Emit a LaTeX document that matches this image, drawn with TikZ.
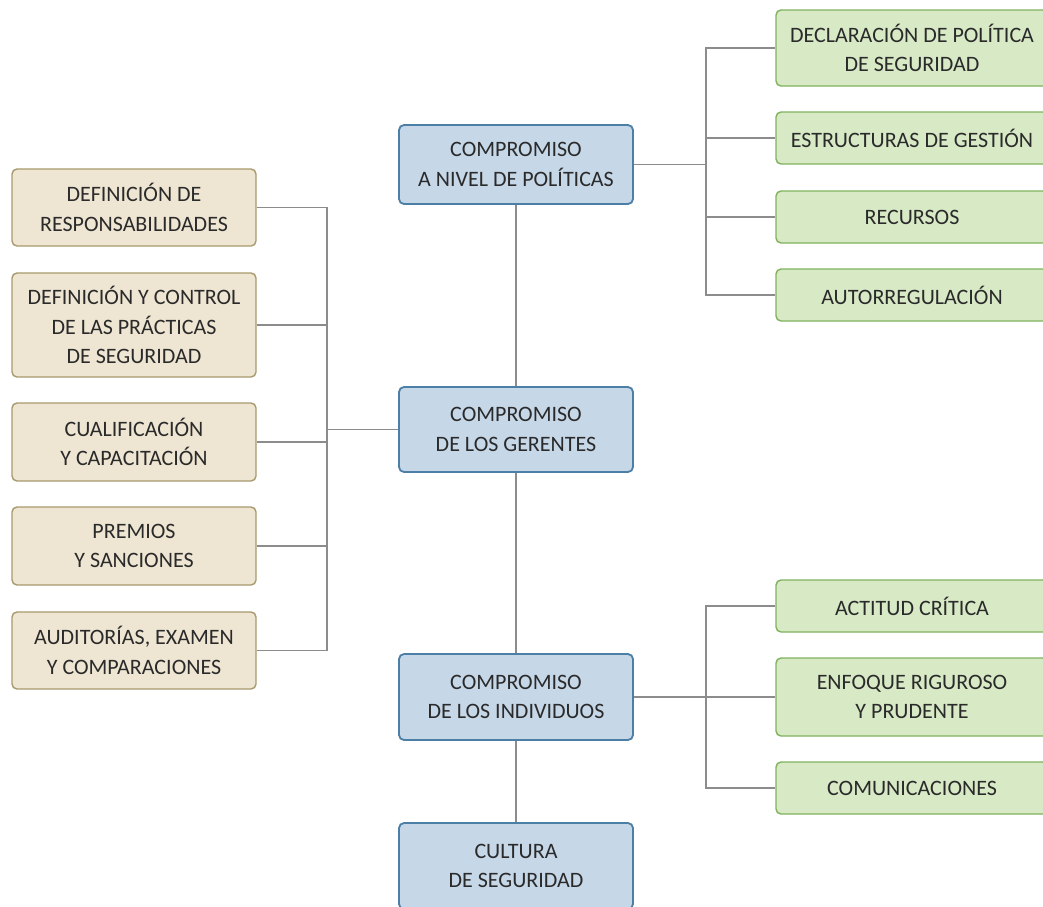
\documentclass[tikz,border=0pt]{standalone}
\usepackage{fontspec}
\setmainfont{Carlito}

\definecolor{tanfill}{HTML}{EEE6D2}
\definecolor{tanline}{HTML}{A8996E}
\definecolor{bluefill}{HTML}{C6D7E8}
\definecolor{blueline}{HTML}{4C7FA6}
\definecolor{greenfill}{HTML}{D8E9C6}
\definecolor{greenline}{HTML}{80B25E}
\definecolor{linkgray}{HTML}{8C8C8C}
\definecolor{txt}{HTML}{2A2A2A}

\begin{document}
\begin{tikzpicture}[x=1pt,y=-1pt,
    box/.style={draw, rounded corners=5pt, align=center, inner sep=0pt,
        text=txt, font=\fontsize{22}{29.5}\selectfont},
    tanbox/.style={box, fill=tanfill, draw=tanline, line width=1.4pt, minimum width=244pt},
    bluebox/.style={box, fill=bluefill, draw=blueline, line width=1.8pt, minimum width=234pt},
    greenbox/.style={box, fill=greenfill, draw=greenline, line width=1.4pt, minimum width=272pt},
    link/.style={draw=linkgray, line width=1.2pt}]

    \useasboundingbox (0,0) rectangle (1043,906);
    \clip (0,0) rectangle (1043,906);

    % central column
    \node[bluebox, minimum height=79pt] (polit) at (516,164.5) {COMPROMISO\\A NIVEL DE POLÍTICAS};
    \node[bluebox, minimum height=85pt] (gerent) at (516,429.5) {COMPROMISO\\DE LOS GERENTES};
    \node[bluebox, minimum height=86pt] (indiv) at (516,697) {COMPROMISO\\DE LOS INDIVIDUOS};
    \node[bluebox, minimum height=86pt] (cultura) at (516,866) {CULTURA\\DE SEGURIDAD};

    % left column (managers)
    \node[tanbox, minimum height=77pt] (resp) at (134,207.5) {DEFINICIÓN DE\\RESPONSABILIDADES};
    \node[tanbox, minimum height=104pt] (practicas) at (134,325) {DEFINICIÓN Y CONTROL\\DE LAS PRÁCTICAS\\DE SEGURIDAD};
    \node[tanbox, minimum height=78pt] (cualif) at (134,442) {CUALIFICACIÓN\\Y CAPACITACIÓN};
    \node[tanbox, minimum height=78pt] (premios) at (134,546) {PREMIOS\\Y SANCIONES};
    \node[tanbox, minimum height=77pt] (auditorias) at (134,650.5) {AUDITORÍAS, EXAMEN\\Y COMPARACIONES};

    % right column, top (policy level)
    \node[greenbox, minimum height=76pt] (declar) at (912,48) {DECLARACIÓN DE POLÍTICA\\DE SEGURIDAD};
    \node[greenbox, minimum height=52pt] (estruct) at (912,138) {ESTRUCTURAS DE GESTIÓN};
    \node[greenbox, minimum height=52pt] (recursos) at (912,217) {RECURSOS};
    \node[greenbox, minimum height=52pt] (autorreg) at (912,295) {AUTORREGULACIÓN};

    % right column, bottom (individuals)
    \node[greenbox, minimum height=52pt] (actitud) at (912,606) {ACTITUD CRÍTICA};
    \node[greenbox, minimum height=78pt] (enfoque) at (912,697) {ENFOQUE RIGUROSO\\Y PRUDENTE};
    \node[greenbox, minimum height=52pt] (comunic) at (912,788) {COMUNICACIONES};

    % junction points
    \coordinate (lbus) at (327,429.5);
    \coordinate (rtop) at (706,164.5);
    \coordinate (rbot) at (706,697);

    % vertical spine
    \draw[link] (polit.south) -- (gerent.north);
    \draw[link] (gerent.south) -- (indiv.north);
    \draw[link] (indiv.south) -- (cultura.north);

    % left tree
    \draw[link] (lbus) -- (gerent.west);
    \foreach \n in {resp,practicas,cualif,premios,auditorias}
        \draw[link] (\n.east) -| (lbus);

    % right trees
    \draw[link] (polit.east) -- (rtop);
    \foreach \n in {declar,estruct,recursos,autorreg}
        \draw[link] (rtop) |- (\n.west);
    \draw[link] (indiv.east) -- (rbot);
    \foreach \n in {actitud,enfoque,comunic}
        \draw[link] (rbot) |- (\n.west);

\end{tikzpicture}
\end{document}
